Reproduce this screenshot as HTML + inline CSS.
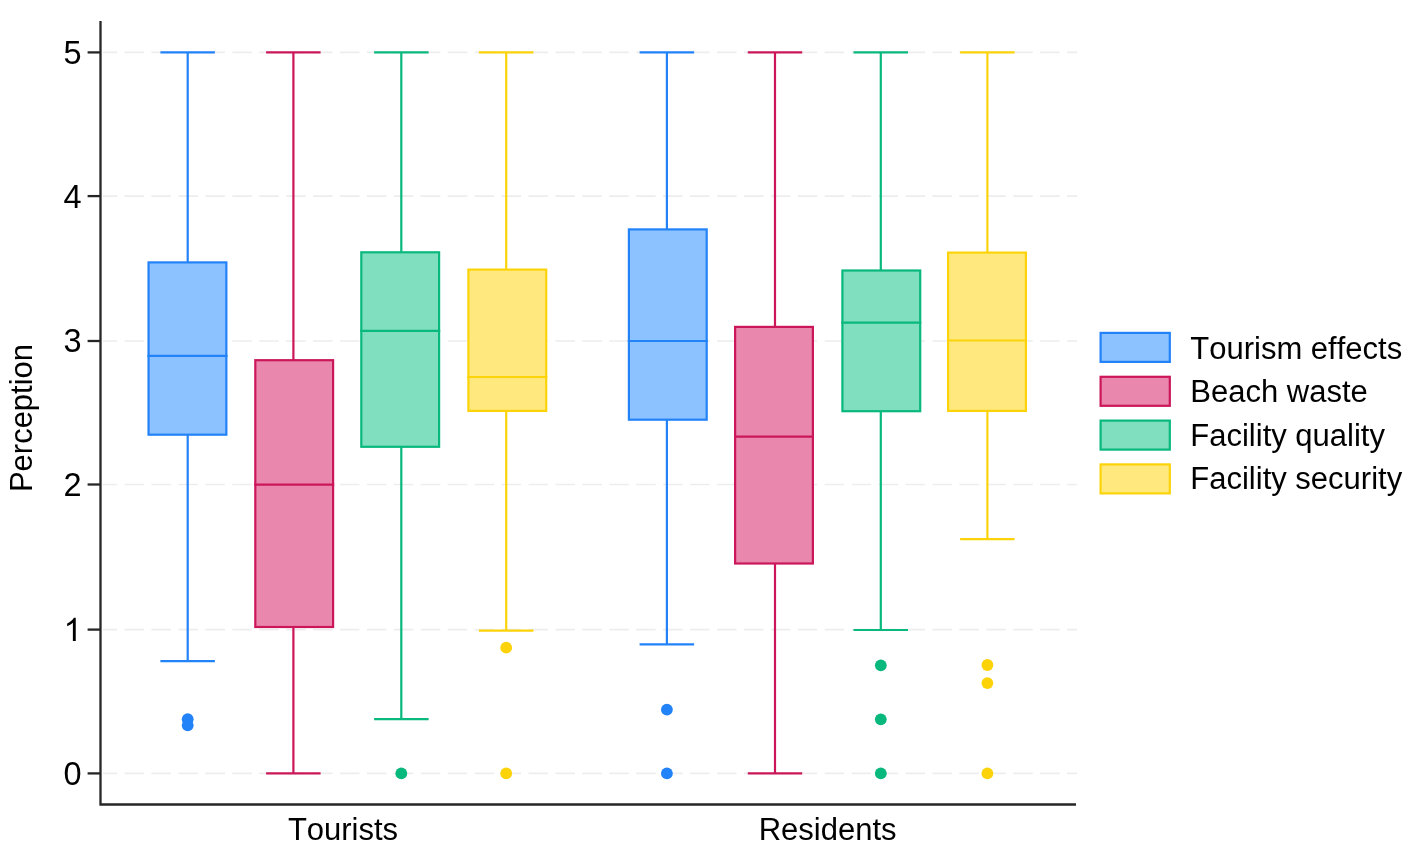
<!DOCTYPE html>
<html><head><meta charset="utf-8"><style>
html,body{margin:0;padding:0;background:#fff;}
body{width:1417px;height:853px;overflow:hidden;}
svg{display:block;filter:blur(0.45px);}
text{font-family:"Liberation Sans",sans-serif;fill:#000;font-kerning:none;}
</style></head><body>
<svg width="1417" height="853" viewBox="0 0 1417 853">
<rect width="1417" height="853" fill="#fff"/>

<line x1="103" y1="773.40" x2="1077" y2="773.40" stroke="#ededed" stroke-width="1.6" stroke-dasharray="19.5 7.43" stroke-dashoffset="5.38"/>
<line x1="103" y1="629.60" x2="1077" y2="629.60" stroke="#ededed" stroke-width="1.6" stroke-dasharray="19.5 7.43" stroke-dashoffset="5.38"/>
<line x1="103" y1="484.50" x2="1077" y2="484.50" stroke="#ededed" stroke-width="1.6" stroke-dasharray="19.5 7.43" stroke-dashoffset="5.38"/>
<line x1="103" y1="341.00" x2="1077" y2="341.00" stroke="#ededed" stroke-width="1.6" stroke-dasharray="19.5 7.43" stroke-dashoffset="5.38"/>
<line x1="103" y1="196.10" x2="1077" y2="196.10" stroke="#ededed" stroke-width="1.6" stroke-dasharray="19.5 7.43" stroke-dashoffset="5.38"/>
<line x1="103" y1="52.40" x2="1077" y2="52.40" stroke="#ededed" stroke-width="1.6" stroke-dasharray="19.5 7.43" stroke-dashoffset="5.38"/>
<g stroke="#2282f8" stroke-width="2.2" fill="none">
<line x1="187.7" y1="52.4" x2="187.7" y2="262.4"/>
<line x1="187.7" y1="434.7" x2="187.7" y2="661.1"/>
<line x1="160.4" y1="52.4" x2="214.9" y2="52.4"/>
<line x1="160.4" y1="661.1" x2="214.9" y2="661.1"/>
<rect x="148.55" y="262.4" width="77.8" height="172.3" fill="#8cc2ff"/>
<line x1="147.45" y1="355.9" x2="227.45" y2="355.9"/>
</g>
<circle cx="187.7" cy="719.2" r="5.9" fill="#2282f8"/>
<circle cx="187.7" cy="725.3" r="5.9" fill="#2282f8"/>
<g stroke="#cc165a" stroke-width="2.2" fill="none">
<line x1="293.4" y1="52.4" x2="293.4" y2="360.2"/>
<line x1="293.4" y1="627.0" x2="293.4" y2="773.4"/>
<line x1="266.1" y1="52.4" x2="320.6" y2="52.4"/>
<line x1="266.1" y1="773.4" x2="320.6" y2="773.4"/>
<rect x="255.30" y="360.2" width="77.8" height="266.8" fill="#e988ac"/>
<line x1="254.20" y1="484.6" x2="334.20" y2="484.6"/>
</g>
<g stroke="#08b87c" stroke-width="2.2" fill="none">
<line x1="401.3" y1="52.4" x2="401.3" y2="252.3"/>
<line x1="401.3" y1="446.8" x2="401.3" y2="719.1"/>
<line x1="374.1" y1="52.4" x2="428.6" y2="52.4"/>
<line x1="374.1" y1="719.1" x2="428.6" y2="719.1"/>
<rect x="361.30" y="252.3" width="77.8" height="194.5" fill="#80dfbf"/>
<line x1="360.20" y1="330.8" x2="440.20" y2="330.8"/>
</g>
<circle cx="401.3" cy="773.4" r="5.9" fill="#08b87c"/>
<g stroke="#fcd309" stroke-width="2.2" fill="none">
<line x1="506.2" y1="52.4" x2="506.2" y2="269.6"/>
<line x1="506.2" y1="410.9" x2="506.2" y2="630.6"/>
<line x1="478.9" y1="52.4" x2="533.5" y2="52.4"/>
<line x1="478.9" y1="630.6" x2="533.5" y2="630.6"/>
<rect x="468.40" y="269.6" width="77.8" height="141.3" fill="#ffe97f"/>
<line x1="467.30" y1="377.0" x2="547.30" y2="377.0"/>
</g>
<circle cx="506.2" cy="647.7" r="5.9" fill="#fcd309"/>
<circle cx="506.2" cy="773.4" r="5.9" fill="#fcd309"/>
<g stroke="#2282f8" stroke-width="2.2" fill="none">
<line x1="666.9" y1="52.4" x2="666.9" y2="229.4"/>
<line x1="666.9" y1="419.7" x2="666.9" y2="644.3"/>
<line x1="639.6" y1="52.4" x2="694.1" y2="52.4"/>
<line x1="639.6" y1="644.3" x2="694.1" y2="644.3"/>
<rect x="628.90" y="229.4" width="77.8" height="190.3" fill="#8cc2ff"/>
<line x1="627.80" y1="341.0" x2="707.80" y2="341.0"/>
</g>
<circle cx="666.9" cy="709.6" r="5.9" fill="#2282f8"/>
<circle cx="666.9" cy="773.4" r="5.9" fill="#2282f8"/>
<g stroke="#cc165a" stroke-width="2.2" fill="none">
<line x1="775.0" y1="52.4" x2="775.0" y2="326.9"/>
<line x1="775.0" y1="563.5" x2="775.0" y2="773.4"/>
<line x1="747.8" y1="52.4" x2="802.2" y2="52.4"/>
<line x1="747.8" y1="773.4" x2="802.2" y2="773.4"/>
<rect x="735.10" y="326.9" width="77.8" height="236.6" fill="#e988ac"/>
<line x1="734.00" y1="436.6" x2="814.00" y2="436.6"/>
</g>
<g stroke="#08b87c" stroke-width="2.2" fill="none">
<line x1="880.8" y1="52.4" x2="880.8" y2="270.5"/>
<line x1="880.8" y1="411.2" x2="880.8" y2="630.0"/>
<line x1="853.5" y1="52.4" x2="908.0" y2="52.4"/>
<line x1="853.5" y1="630.0" x2="908.0" y2="630.0"/>
<rect x="842.40" y="270.5" width="77.8" height="140.7" fill="#80dfbf"/>
<line x1="841.30" y1="322.6" x2="921.30" y2="322.6"/>
</g>
<circle cx="880.8" cy="665.3" r="5.9" fill="#08b87c"/>
<circle cx="880.8" cy="719.3" r="5.9" fill="#08b87c"/>
<circle cx="880.8" cy="773.4" r="5.9" fill="#08b87c"/>
<g stroke="#fcd309" stroke-width="2.2" fill="none">
<line x1="987.4" y1="52.4" x2="987.4" y2="252.6"/>
<line x1="987.4" y1="410.9" x2="987.4" y2="539.2"/>
<line x1="960.1" y1="52.4" x2="1014.6" y2="52.4"/>
<line x1="960.1" y1="539.2" x2="1014.6" y2="539.2"/>
<rect x="948.10" y="252.6" width="77.8" height="158.3" fill="#ffe97f"/>
<line x1="947.00" y1="340.5" x2="1027.00" y2="340.5"/>
</g>
<circle cx="987.4" cy="665.0" r="5.9" fill="#fcd309"/>
<circle cx="987.4" cy="683.1" r="5.9" fill="#fcd309"/>
<circle cx="987.4" cy="773.4" r="5.9" fill="#fcd309"/>
<g stroke="#262626" stroke-width="2.3" fill="none">
<path d="M100.5 21 V804.5 H1076"/>
<line x1="87.6" y1="773.40" x2="100.5" y2="773.40"/>
<line x1="87.6" y1="629.60" x2="100.5" y2="629.60"/>
<line x1="87.6" y1="484.50" x2="100.5" y2="484.50"/>
<line x1="87.6" y1="341.00" x2="100.5" y2="341.00"/>
<line x1="87.6" y1="196.10" x2="100.5" y2="196.10"/>
<line x1="87.6" y1="52.40" x2="100.5" y2="52.40"/>
</g>
<text x="81.7" y="784.85" font-size="32.5" text-anchor="end">0</text>
<path transform="translate(63.63,641.05) scale(0.015869,-0.015869)" d="M763 0H583V1147Q518 1085 412 1023T223 930V1104Q374 1175 487 1276T647 1472H763V0Z" fill="#000"/>
<text x="81.7" y="495.95" font-size="32.5" text-anchor="end">2</text>
<text x="81.7" y="352.45" font-size="32.5" text-anchor="end">3</text>
<text x="81.7" y="207.55" font-size="32.5" text-anchor="end">4</text>
<text x="81.7" y="63.85" font-size="32.5" text-anchor="end">5</text>
<text transform="translate(31.9,418) rotate(-90)" font-size="31" text-anchor="middle">Perception</text>
<text x="343" y="839.5" font-size="31" text-anchor="middle">Tourists</text>
<text x="827.6" y="839.5" font-size="31" text-anchor="middle">Residents</text>
<rect x="1100.6" y="332.9" width="69.2" height="29" fill="#8cc2ff" stroke="#2282f8" stroke-width="2.2"/>
<text x="1190.3" y="358.8" font-size="31">Tourism effects</text>
<rect x="1100.6" y="376.8" width="69.2" height="29" fill="#e988ac" stroke="#cc165a" stroke-width="2.2"/>
<text x="1190.3" y="402.4" font-size="31">Beach waste</text>
<rect x="1100.6" y="420.6" width="69.2" height="29" fill="#80dfbf" stroke="#08b87c" stroke-width="2.2"/>
<text x="1190.3" y="445.9" font-size="31">Facility quality</text>
<rect x="1100.6" y="464.4" width="69.2" height="29" fill="#ffe97f" stroke="#fcd309" stroke-width="2.2"/>
<text x="1190.3" y="489.4" font-size="31">Facility security</text>
</svg></body></html>
